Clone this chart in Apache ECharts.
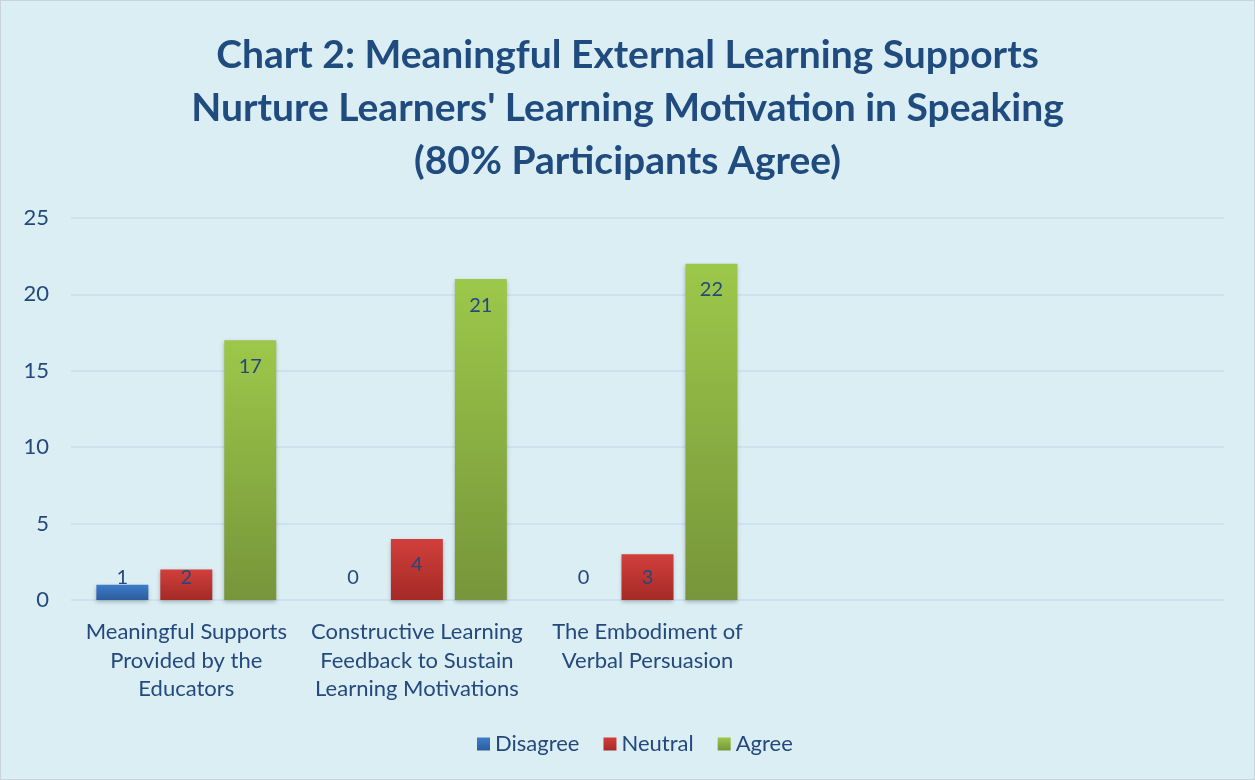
<!DOCTYPE html>
<html>
<head>
<meta charset="utf-8">
<script src="https://cdn.jsdelivr.net/npm/echarts@6/dist/echarts.min.js"></script>
<style>
  html, body { margin: 0; padding: 0; background: #ffffff; }
  #chart { width: 1253px; height: 778px; border: 1px solid #c9d3db; background: #dbeef4; }
</style>
</head>
<body>
<div id="chart"></div>
<script>
var categories = [
    'Meaningful Supports\nProvided by the\nEducators',
    'Constructive Learning\nFeedback to Sustain\nLearning Motivations',
    'The Embodiment of\nVerbal Persuasion',
    '',
    ''
];
var disagree = [1, 0, 0, '-', '-'];
var neutral = [2, 4, 3, '-', '-'];
var agree = [17, 21, 22, '-', '-'];
var yTicks = { min: 0, max: 25, interval: 5 };

var textColor = '#24497c';

// short bars get their label pinned near the bottom, like excel does
function withLabels(arr) {
    return arr.map(function (v) {
        if (v === '-') return v;
        var low = v < 3.4;
        return {
            value: v,
            label: low ? { position: 'insideBottom', distance: 12 } : { position: 'insideTop', distance: 16 }
        };
    });
}

function grad(top, bottom) {
    return new echarts.graphic.LinearGradient(0, 0, 0, 1, [
        { offset: 0, color: top },
        { offset: 1, color: bottom }
    ]);
}

function barSeries(name, data, top, bottom) {
    return {
        name: name,
        type: 'bar',
        data: withLabels(data),
        barGap: '23%',
        barCategoryGap: '22%',
        itemStyle: {
            color: grad(top, bottom),
            shadowBlur: 4,
            shadowOffsetY: 2,
            shadowColor: 'rgba(0,0,0,0.25)'
        },
        label: {
            show: true,
            color: textColor,
            fontSize: 20,
            fontFamily: 'Lato'
        }
    };
}

var chart = echarts.init(document.getElementById('chart'));
var option = {
    backgroundColor: '#dbeef4',
    textStyle: { fontFamily: 'Lato' },
    title: {
        text: "Chart 2: Meaningful External Learning Supports\nNurture Learners' Learning Motivation in Speaking\n(80% Participants Agree)",
        left: 'center',
        top: 23,
        textStyle: {
            color: '#1f4b7e',
            fontSize: 39,
            fontWeight: 'bold',
            fontFamily: 'Lato',
            lineHeight: 53
        }
    },
    legend: {
        bottom: 19,
        left: 471,
        itemWidth: 13,
        itemHeight: 13,
        itemGap: 24,
        icon: 'rect',
        textStyle: { color: textColor, fontSize: 22, fontFamily: 'Lato' },
        data: ['Disagree', 'Neutral', 'Agree']
    },
    grid: { left: 70, right: 30, top: 217, bottom: 179 },
    xAxis: {
        type: 'category',
        data: categories,
        axisLine: { show: false },
        axisTick: { show: false },
        axisLabel: {
            color: textColor,
            fontSize: 22,
            lineHeight: 28.5,
            margin: 18,
            interval: 0,
            fontFamily: 'Lato'
        }
    },
    yAxis: {
        type: 'value',
        min: yTicks.min,
        max: yTicks.max,
        interval: yTicks.interval,
        axisLine: { show: false },
        axisTick: { show: false },
        axisLabel: { color: textColor, fontSize: 22, margin: 22, fontFamily: 'Lato' },
        splitLine: { lineStyle: { color: '#c8dcee', width: 1.5 } }
    },
    series: [
        barSeries('Disagree', disagree, '#3d7dcb', '#2c5d9c'),
        barSeries('Neutral', neutral, '#d23f3b', '#a42a27'),
        barSeries('Agree', agree, '#9cc84a', '#77953a')
    ]
};
chart.setOption(option);
</script>
</body>
</html>
